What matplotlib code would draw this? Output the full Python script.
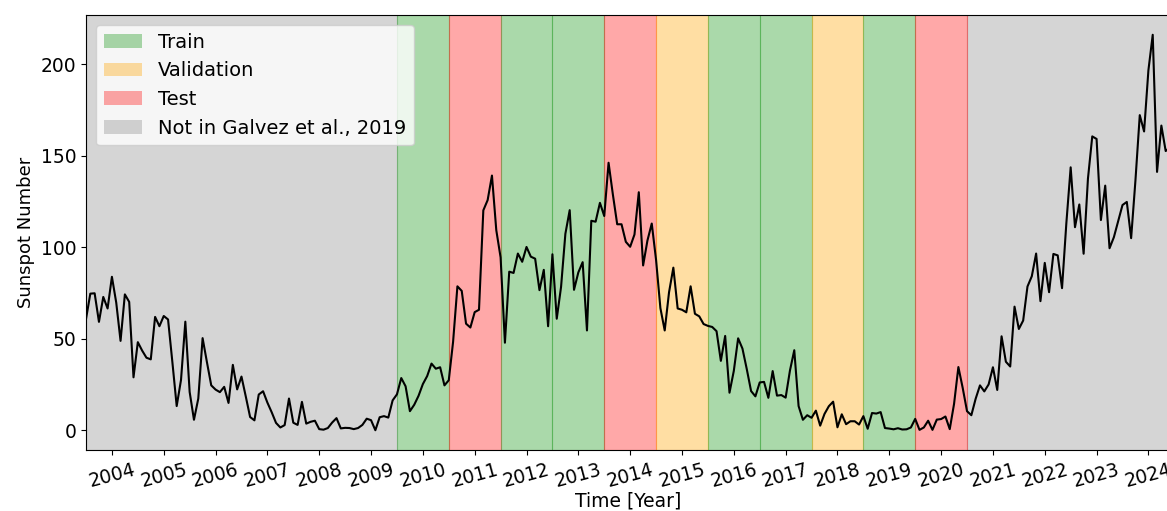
import numpy as np
import matplotlib
matplotlib.use("Agg")
import matplotlib.pyplot as plt
from matplotlib.patches import Patch

# Monthly mean sunspot number, one value per month (12 per row), first month plotted at start_year
sunspot_number = [
    60.7, 74.6, 74.8, 59.2, 72.8, 66.5, 83.8, 69.7, 48.8, 74.2, 70.1, 28.9,
    48.1, 43.5, 39.6, 38.7, 61.9, 56.8, 62.4, 60.5, 37.2, 13.2, 27.5, 59.3,
    20.9, 5.7, 17.3, 50.3, 37.2, 24.5, 22.2, 20.8, 23.7, 14.9, 35.7, 22.3,
    29.3, 18.4, 7.2, 5.4, 19.5, 21.3, 15.1, 9.8, 4.0, 1.5, 2.8, 17.3,
    4.1, 2.9, 15.5, 3.6, 4.6, 5.2, 0.6, 0.3, 1.2, 4.2, 6.6, 1.0,
    1.3, 1.2, 0.6, 1.2, 2.9, 6.3, 5.5, 0.0, 7.1, 7.7, 6.9, 16.3,
    19.6, 28.5, 24.0, 10.4, 13.9, 18.8, 25.2, 29.6, 36.4, 33.6, 34.4, 24.5,
    27.3, 48.3, 78.6, 76.1, 58.2, 56.1, 64.5, 65.8, 120.1, 125.7, 139.1, 109.3,
    94.4, 47.8, 86.6, 85.9, 96.5, 92.0, 100.1, 94.8, 93.7, 76.5, 87.6, 56.8,
    96.1, 60.9, 78.3, 107.3, 120.2, 76.7, 86.2, 91.8, 54.5, 114.4, 113.9, 124.2,
    117.0, 146.1, 128.7, 112.5, 112.5, 102.9, 100.2, 106.9, 130.0, 90.0, 103.6, 112.9,
    93.0, 66.7, 54.5, 75.3, 88.8, 66.5, 65.8, 64.4, 78.6, 63.6, 62.2, 58.0,
    57.0, 56.4, 54.1, 37.9, 51.5, 20.5, 32.4, 50.2, 44.6, 33.4, 21.4, 18.5,
    26.1, 26.4, 17.7, 32.3, 18.9, 19.2, 17.8, 32.6, 43.7, 13.2, 5.7, 8.2,
    6.8, 10.7, 2.5, 8.9, 13.1, 15.6, 1.6, 8.7, 3.3, 4.9, 4.9, 3.1,
    7.7, 0.8, 9.4, 9.1, 9.9, 1.2, 0.9, 0.5, 1.1, 0.4, 0.5, 1.5,
    6.2, 0.2, 1.5, 5.2, 0.2, 5.8, 6.1, 7.5, 0.6, 14.4, 34.5, 23.1,
    10.4, 8.2, 17.2, 24.5, 21.2, 25.0, 34.4, 22.0, 51.3, 37.4, 34.8, 67.5,
    55.3, 59.9, 78.5, 84.1, 96.5, 70.5, 91.4, 75.4, 96.3, 95.5, 77.6, 113.1,
    143.6, 110.9, 123.3, 96.4, 137.4, 160.5, 159.1, 114.8, 133.6, 99.4, 105.4, 114.2,
    123.0, 124.7, 104.9, 136.5, 172.1, 163.2, 196.6, 216.0, 141.1, 166.4, 152.5, 154.5,
]
start_year = 2003.5

# One-year blocks of the Galvez et al. (2019) split
split_starts = [2009.5, 2010.5, 2011.5, 2012.5, 2013.5, 2014.5,
                2015.5, 2016.5, 2017.5, 2018.5, 2019.5]
split_labels = ["Train", "Test", "Train", "Train", "Test", "Validation",
                "Train", "Train", "Validation", "Train", "Test"]
outside_label = "Not in Galvez et al., 2019"

year_ticks = list(range(2004, 2025))

colors = {
    "Train": "tab:green",
    "Validation": "orange",
    "Test": "red",
    outside_label: "gray",
}
alphas = {
    "Train": 0.4,
    "Validation": 0.36,
    "Test": 0.34,
    outside_label: 0.33,
}

values = np.asarray(sunspot_number)
time = start_year + np.arange(len(values)) / 12.0

fig = plt.figure(figsize=(11.67, 5.11), dpi=100)
ax = fig.add_axes([86 / 1167, 61 / 511, (1170 - 86) / 1167, (450 - 15) / 511])

# Periods outside the split
ax.axvspan(time[0], split_starts[0], color=colors[outside_label],
           alpha=alphas[outside_label], linewidth=0.8)
ax.axvspan(split_starts[-1] + 1, time[-1], color=colors[outside_label],
           alpha=alphas[outside_label], linewidth=0.8)
for s, lab in zip(split_starts, split_labels):
    ax.axvspan(s, s + 1, color=colors[lab], alpha=alphas[lab], linewidth=0.8)

ax.plot(time, values, color="black", linewidth=1.5)

ax.set_xlim(time[0], time[-1])
ax.set_xticks(year_ticks)
ax.set_xticklabels([str(y) for y in year_ticks], rotation=15, ha="center")
ax.tick_params(axis="both", labelsize=13.5)
ax.set_xlabel("Time [Year]", fontsize=13.5, labelpad=1)
ax.set_ylabel("Sunspot Number", fontsize=13)

legend_order = ["Train", "Validation", "Test", outside_label]
handles = [Patch(facecolor=colors[k], alpha=alphas[k], label=k) for k in legend_order]
ax.legend(handles=handles, loc="upper left", fontsize=14, framealpha=0.8)

fig.savefig("out.png", dpi=100)
